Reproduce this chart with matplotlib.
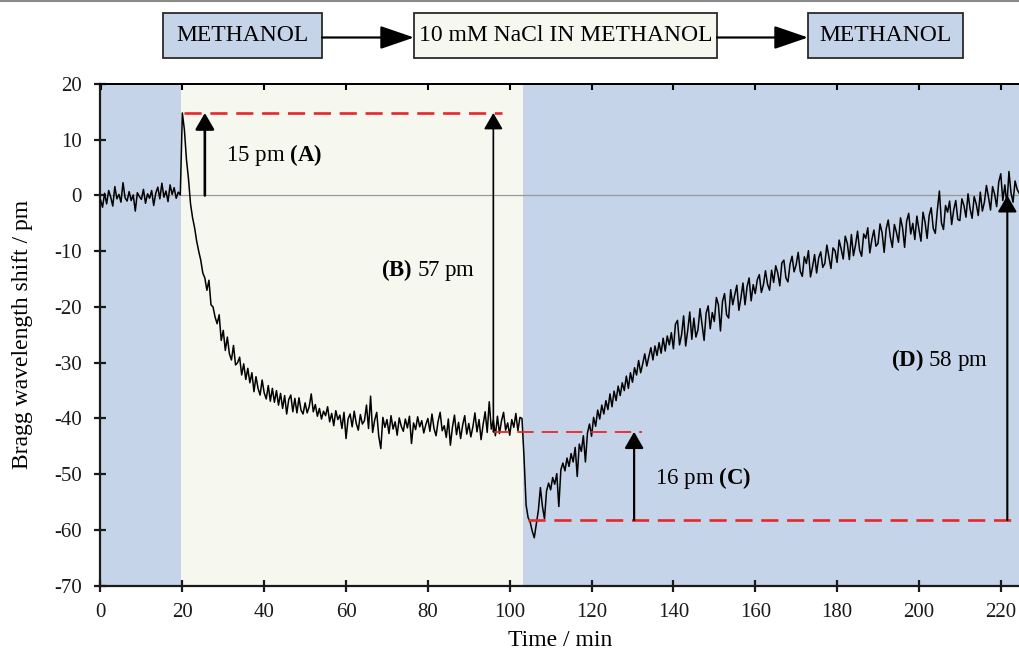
import numpy as np
import matplotlib
matplotlib.use("Agg")
import matplotlib.pyplot as plt
from matplotlib.patches import FancyArrowPatch, Rectangle
from matplotlib.lines import Line2D

plt.rcParams['font.family'] = 'Liberation Serif'
plt.rcParams['mathtext.fontset'] = 'custom'
plt.rcParams['mathtext.rm'] = 'Liberation Serif'
plt.rcParams['mathtext.bf'] = 'Liberation Serif:bold'
plt.rcParams['axes.unicode_minus'] = False

# --- trace, 0.5 min sampling, one list per stretch ---
step_min = 0.5
segment_start = [0.0, 20.0, 50.0, 103.5, 140.0]

shift_baseline = [
    -0.8, -2.1, 0.4, -1.5, 0.9, -0.3, -1.9, 1.6, -0.6, 0.2,
    -1.2, 2.3, -0.4, -1.0, 0.7, -0.9, 0.1, -2.8, 0.5, -0.2,
    -0.7, 1.1, -1.4, 0.3, -0.5, 0.9, -1.8, 0.4, 1.5, -0.6,
    2.2, -0.3, 0.8, -1.1, 1.9, 0.2, 1.4, -0.5, 0.6, 0.1,
]
shift_decay = [
    14.8, 11.8, 6.5, 3.0, -1.5, -4.0, -5.8, -8.2, -10.0, -11.6,
    -13.9, -14.8, -17.0, -15.2, -19.6, -20.0, -21.8, -23.0, -21.4, -26.0,
    -24.2, -27.8, -25.4, -28.4, -29.5, -26.9, -30.4, -30.0, -29.0, -32.2,
    -30.2, -33.0, -31.0, -33.6, -31.8, -35.2, -32.5, -34.6, -35.8, -33.1,
    -35.4, -36.5, -34.1, -36.9, -34.6, -37.1, -35.0, -37.6, -35.5, -38.2,
    -35.9, -39.2, -36.6, -35.8, -38.8, -36.4, -39.0, -36.3, -38.5, -39.2,
]
shift_plateau = [
    -37.2, -39.0, -37.9, -35.6, -38.8, -37.5, -39.6, -38.2, -40.1, -38.7,
    -39.5, -37.9, -40.6, -39.1, -41.3, -38.6, -40.2, -39.4, -41.8, -38.9,
    -43.6, -40.1, -39.2, -41.5, -38.7, -40.9, -42.1, -39.3, -41.0, -40.4,
    -37.6, -41.8, -36.0, -42.5, -40.3, -38.9, -43.2, -45.4, -39.8, -41.6,
    -40.2, -42.7, -39.5, -41.9, -40.6, -43.0, -39.9, -41.4, -42.3, -40.1,
    -41.7, -39.6, -44.5, -40.8, -42.0, -39.7, -41.5, -40.4, -42.6, -41.1,
    -40.0, -42.3, -39.2, -41.8, -43.1, -40.5, -38.9, -42.2, -41.3, -43.4,
    -40.1, -44.8, -41.6, -39.4, -42.9, -40.7, -43.6, -41.2, -39.5, -42.8,
    -40.9, -43.3, -41.5, -39.0, -42.4, -40.2, -43.8, -41.1, -38.8, -42.5,
    -37.0, -41.9, -40.3, -43.1, -39.6, -42.7, -40.4, -38.9, -42.1, -40.8,
    -43.0, -40.2, -41.6, -39.1, -42.2, -39.8, -40.0,
]
shift_drop = [
    -47.0, -55.5, -57.8, -58.6, -60.2, -61.4, -59.0, -56.5, -52.4, -55.8,
    -58.0, -53.0, -51.6, -52.8, -50.6, -51.8, -49.9, -55.8, -49.2, -48.0,
    -49.4, -47.1, -48.6, -46.3, -47.8, -45.2, -50.4, -44.6, -45.9, -43.1,
    -47.8, -42.6, -41.0, -43.2, -39.8, -41.4, -38.5, -40.1, -37.6, -39.2,
    -36.8, -38.4, -35.6, -37.9, -35.1, -36.8, -34.2, -35.9, -33.6, -35.0,
    -32.4, -34.6, -31.8, -33.5, -30.9, -32.2, -29.6, -31.8, -30.2, -28.4,
    -30.6, -28.9, -27.3, -29.5, -27.0, -28.7, -26.4, -28.3, -25.6, -27.9,
    -25.2, -26.8, -24.6,
]
shift_recovery = [
    -27.5, -23.1, -22.4, -26.8, -25.0, -21.6, -27.0, -24.2, -20.9, -25.8,
    -22.0, -25.4, -24.1, -20.3, -23.2, -26.0, -21.1, -19.8, -23.9, -21.0,
    -22.6, -18.3, -19.6, -24.3, -19.0, -17.6, -21.4, -22.0, -16.9, -19.6,
    -17.8, -16.1, -20.6, -18.4, -15.7, -19.6, -16.4, -14.8, -18.9, -16.0,
    -17.6, -15.1, -14.2, -17.4, -16.0, -13.5, -15.9, -17.0, -13.4, -15.6,
    -12.6, -13.9, -16.2, -12.1, -11.6, -14.8, -15.5, -12.3, -10.9, -13.7,
    -12.4, -10.2, -13.6, -14.5, -11.0, -12.2, -9.9, -14.6, -12.8, -10.6,
    -13.9, -11.2, -10.1, -12.9, -12.2, -8.9, -11.0, -13.1, -9.4, -9.9,
    -12.0, -8.0, -9.6, -11.4, -7.3, -8.6, -11.5, -7.0, -10.8, -8.9,
    -6.4, -9.8, -10.9, -6.9, -7.7, -5.8, -10.3, -7.9, -6.2, -9.1,
    -8.6, -5.1, -6.7, -10.2, -6.0, -4.4, -7.4, -9.3, -5.2, -6.6,
    -8.4, -4.0, -5.8, -9.3, -4.6, -3.2, -6.9, -5.0, -7.9, -3.7,
    -6.1, -8.2, -3.0, -4.8, -7.7, -3.6, -2.2, -5.9, -6.8, -2.6,
    0.8, -4.9, -6.1, -1.8, -3.0, -1.0, -5.2, -2.6, -0.9, -4.3,
    -4.5, -0.6, -1.8, -3.9, 0.3, -2.4, -4.1, -0.2, -1.5, -3.6,
    0.6, -2.8, -1.2, 1.8, -0.3, -2.6, 1.6, 0.2, -2.0, 2.4,
    3.9, -0.9, 1.9, -1.8, 4.3, 0.5, -1.2, 2.6, 1.1, 0.4,
]
segments = [shift_baseline, shift_decay, shift_plateau, shift_drop, shift_recovery]

# solvent phases
phase_names = ['METHANOL', '10 mM NaCl IN METHANOL', 'METHANOL']
phase_edges = [0.0, 19.6, 103.3, 224.7]
phase_colors = ['#c5d4e8', '#f6f8ef', '#c5d4e8']

# measured shifts (A)-(D)
level_peak = 14.8
level_plateau = -42.4
level_min = -58.2
level_end = 0.0

x_ticks = list(range(0, 221, 20))
y_ticks = list(range(-70, 21, 10))

time_min = np.concatenate([s + step_min * np.arange(len(v))
                           for s, v in zip(segment_start, segments)])
shift_pm = np.concatenate(segments)

# -------------------------------
W, H = 1020, 652
fig = plt.figure(figsize=(W / 100, H / 100), dpi=100)
ax = fig.add_axes([100.5 / W, 66.3 / H, (W - 100.5) / W, 501.7 / H])

for i in range(len(phase_names)):
    ax.axvspan(phase_edges[i], phase_edges[i + 1], color=phase_colors[i], lw=0, zorder=0)

ax.axhline(0, color='#9a9a9a', lw=0.9, zorder=1)
ax.plot(time_min, shift_pm, color='k', lw=1.1, zorder=3)

red = '#e8262b'
ax.plot([20.3, 98.2], [level_peak, level_peak], color=red, lw=1.9, ls=(0, (6.5, 3.3)), zorder=4)
ax.plot([95.8, 132.4], [level_plateau, level_plateau], color=red, lw=1.3, ls=(0, (9, 4.5)), zorder=4)
ax.plot([104.5, 230], [level_min, level_min], color=red, lw=1.9, ls=(0, (6.5, 3.3)), zorder=4)


def up_arrow(x, y0, y1, lw):
    ax.annotate('', xy=(x, y1), xytext=(x, y0),
                arrowprops=dict(arrowstyle='-|>,head_length=0.5,head_width=0.29',
                                mutation_scale=20, lw=lw, color='k',
                                shrinkA=0, shrinkB=0), zorder=5)


up_arrow(25.5, level_end, level_peak, 1.9)
up_arrow(96.0, level_plateau, level_peak, 1.2)
up_arrow(130.4, level_min, level_plateau, 1.6)
up_arrow(221.6, level_min, level_end, 1.5)

fs_note = 16.5
ax.text(30.7, 7.3, r'15 pm $\mathbf{(A)}$', fontsize=fs_note, ha='left', va='center')
ax.text(91.6, -13.4, r'$\mathbf{(B)}$ 57 pm', fontsize=fs_note, ha='right', va='center')
ax.text(135.5, -50.6, r'16 pm $\mathbf{(C)}$', fontsize=fs_note, ha='left', va='center')
ax.text(216.8, -29.5, r'$\mathbf{(D)}$ 58 pm', fontsize=fs_note, ha='right', va='center')

ax.set_xlim(0, 224.7)
ax.set_ylim(-70, 20)
ax.set_xticks(x_ticks)
ax.set_yticks(y_ticks)
ax.tick_params(axis='both', direction='inout', length=9, width=1.6, labelsize=15,
               colors='#1a1a1a')
ax.tick_params(axis='x', pad=8)
ax.tick_params(axis='y', pad=9)
for side in ['left', 'bottom']:
    ax.spines[side].set_linewidth(1.6)
    ax.spines[side].set_color('#1a1a1a')
ax.spines['right'].set_visible(False)
ax.spines['top'].set_linewidth(1.3)

top = ax.secondary_xaxis('top')
top.set_xticks(x_ticks)
top.set_xticklabels([])
top.tick_params(direction='in', length=4.5, width=1.5)
top.spines['top'].set_linewidth(1.3)

ax.set_xlabel('Time / min', fontsize=17, labelpad=6)
ax.set_ylabel('Bragg wavelength shift / pm', fontsize=17, labelpad=15)

# --- solvent sequence boxes above the plot ---
box_px = [(163, 322), (414, 717), (808, 963)]
box_top, box_bot = 13, 58
for (x0, x1), name, col in zip(box_px, phase_names, phase_colors):
    fig.add_artist(Rectangle((x0 / W, 1 - box_bot / H), (x1 - x0) / W, (box_bot - box_top) / H,
                             transform=fig.transFigure, facecolor=col,
                             edgecolor='#2a2a2a', lw=1.3))
    fig.text((x0 + x1) / 2 / W, 1 - (box_top + box_bot) / 2 / H, name,
             fontsize=17, ha='center', va='center')
for (a0, a1), (b0, b1) in zip(box_px[:-1], box_px[1:]):
    fig.add_artist(FancyArrowPatch((a1 / W, 1 - 37.5 / H), (b0 / W, 1 - 37.5 / H),
                                   transform=fig.transFigure,
                                   arrowstyle='-|>,head_length=1.05,head_width=0.36',
                                   mutation_scale=20, lw=1.6, color='k',
                                   shrinkA=0, shrinkB=0))

fig.add_artist(Line2D([0, 1], [1 - 1 / H, 1 - 1 / H], transform=fig.transFigure,
                      color='#8a8a8a', lw=1.5))

fig.savefig('out.png', dpi=100)
